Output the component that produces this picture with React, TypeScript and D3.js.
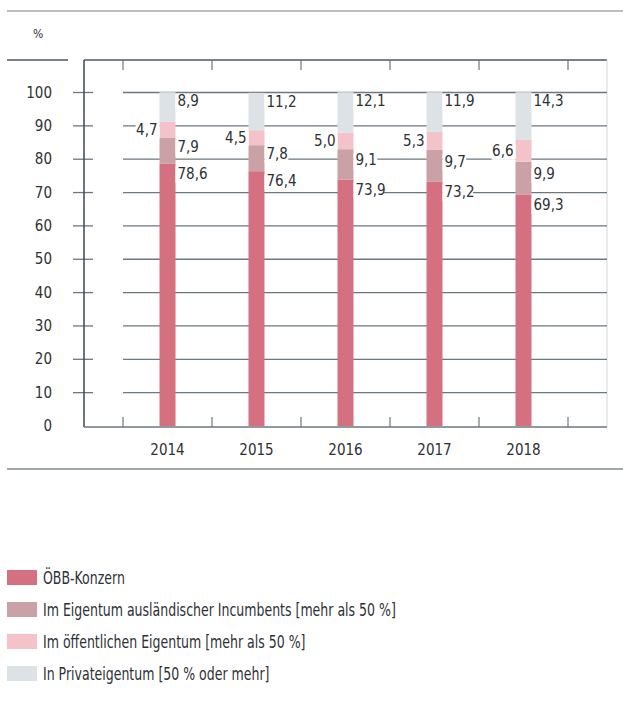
import React from "react";
import * as d3 from "d3";

const years = ["2014", "2015", "2016", "2017", "2018"];
const oebb = [78.6, 76.4, 73.9, 73.2, 69.3];
const incumbents = [7.9, 7.8, 9.1, 9.7, 9.9];
const oeffentlich = [4.7, 4.5, 5.0, 5.3, 6.6];
const privat = [8.9, 11.2, 12.1, 11.9, 14.3];
const yTicks = [0, 10, 20, 30, 40, 50, 60, 70, 80, 90, 100];
const seriesNames = [
  "ÖBB-Konzern",
  "Im Eigentum ausländischer Incumbents [mehr als 50 %]",
  "Im öffentlichen Eigentum [mehr als 50 %]",
  "In Privateigentum [50 % oder mehr]",
];
const colors = ["#d4707f", "#c9a1a7", "#f4c3c9", "#dde2e6"];

const FONT = "'DejaVu Sans Condensed', 'DejaVu Sans', sans-serif";
const fmt = (v: number) => v.toFixed(1).replace(".", ",");

export default function App() {
  const W = 623, H = 718;
  const x = d3.scaleBand<string>().domain(years).range([123, 568]).paddingInner(0).paddingOuter(0);
  const y = d3.scaleLinear().domain([0, 100]).range([426, 92.5]);
  const barW = 16;
  const stackData = years.map((yr, i) => ({ year: yr, s0: oebb[i], s1: incumbents[i], s2: oeffentlich[i], s3: privat[i] }));
  const stacked = d3.stack<any>().keys(["s0", "s1", "s2", "s3"])(stackData);
  const boundaries = [...years.map((yr) => x(yr)!), x(years[years.length - 1])! + x.bandwidth()];
  const gridColor = "#6b7781";
  const textColor = "#2c3136";

  const labelBox = (tx: number, ty: number, txt: string, anchor: "start" | "end", key: string) => {
    const w = txt.length * 6.6 + 4;
    const rx = anchor === "start" ? tx - 2 : tx - w + 2;
    return (
      <g key={key}>
        <rect x={rx} y={ty - 12} width={w} height={16} fill="#ffffff" />
        <text x={tx} y={ty} textAnchor={anchor} fontSize={15} fill={textColor}>{txt}</text>
      </g>
    );
  };

  return (
    <svg width={W} height={H} style={{ position: "absolute", left: 0, top: 0, background: "#fff", fontFamily: FONT, fontStretch: "condensed" }}>
      <line x1={7} x2={623} y1={11} y2={11} stroke="#a3a8ad" strokeWidth={1.5} />
      <text x={33} y={38} fontSize={12} fill={textColor}>%</text>

      <line x1={7} x2={68} y1={60} y2={60} stroke="#4d5862" strokeWidth={1.5} />
      <line x1={84} x2={607} y1={60} y2={60} stroke="#4d5862" strokeWidth={1.5} />
      <line x1={607} x2={607} y1={60} y2={427} stroke="#d3d8dc" strokeWidth={1} />
      {boundaries.map((bx, i) => (
        <line key={"tt" + i} x1={bx} x2={bx} y1={60} y2={70} stroke="#6b7781" strokeWidth={1.2} />
      ))}

      {yTicks.filter((t) => t > 0).map((t) => (
        <g key={"g" + t}>
          <line x1={73} x2={93} y1={y(t)} y2={y(t)} stroke={gridColor} strokeWidth={1.3} />
          <line x1={123} x2={607} y1={y(t)} y2={y(t)} stroke={gridColor} strokeWidth={1.3} />
        </g>
      ))}
      {yTicks.map((t) => (
        <text key={"yl" + t} x={52} y={y(t) + 5} textAnchor="end" fontSize={15} fill={textColor}>{t}</text>
      ))}

      <line x1={84} x2={84} y1={60} y2={427} stroke="#3e4850" strokeWidth={1.5} />
      <line x1={84} x2={607} y1={427} y2={427} stroke="#6b7781" strokeWidth={1.3} />
      {boundaries.map((bx, i) => (
        <line key={"bt" + i} x1={bx} x2={bx} y1={417} y2={427} stroke="#6b7781" strokeWidth={1.2} />
      ))}

      {stacked.map((layer, li) => (
        <g key={"l" + li} fill={colors[li]}>
          {layer.map((d, i) => (
            <rect key={i} x={x(years[i])! + x.bandwidth() / 2 - barW / 2} width={barW} y={y(d[1])} height={y(d[0]) - y(d[1])} />
          ))}
        </g>
      ))}

      {years.map((yr, i) => {
        const cx = x(yr)! + x.bandwidth() / 2;
        const right = cx + barW / 2 + 2;
        const left = cx - barW / 2 - 2;
        const top = stacked[3][i][1];
        const incMid = (stacked[1][i][0] + stacked[1][i][1]) / 2;
        const pubMid = (stacked[2][i][0] + stacked[2][i][1]) / 2;
        return (
          <g key={"lab" + yr}>
            {labelBox(right, y(top) + 14, fmt(privat[i]), "start", "p")}
            {labelBox(left, y(pubMid) + 5, fmt(oeffentlich[i]), "end", "o")}
            {labelBox(right, y(incMid) + 1, fmt(incumbents[i]), "start", "i")}
            {labelBox(right, Math.min(y(65), y(oebb[i]) + 10) + 5, fmt(oebb[i]), "start", "b")}
            <text x={cx} y={455} textAnchor="middle" fontSize={15} fill={textColor}>{yr}</text>
          </g>
        );
      })}

      <line x1={7} x2={623} y1={469} y2={469} stroke="#7f8a94" strokeWidth={1.5} />

      {seriesNames.map((name, i) => (
        <g key={"lg" + i} transform={`translate(7, ${570 + i * 32})`}>
          <rect x={0} y={0} width={30} height={15} fill={colors[i]} />
          <g transform="translate(36, 14) scale(0.82, 1)">
            <text x={0} y={0} fontSize={17} fill={textColor}>{name}</text>
          </g>
        </g>
      ))}
    </svg>
  );
}
